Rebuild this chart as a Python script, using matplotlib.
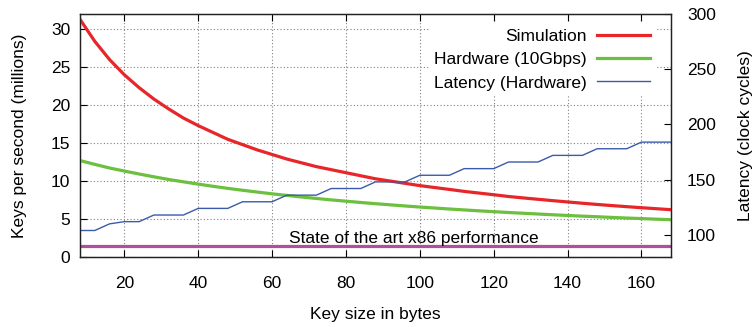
import matplotlib
matplotlib.use("Agg")
import matplotlib.pyplot as plt

plt.rcParams['font.family'] = ['Liberation Sans', 'DejaVu Sans']

# key size in bytes
key_size = [8, 12, 16, 20, 24, 28, 32, 36, 40, 44, 48, 52, 56, 60, 64, 68, 72,
            76, 80, 84, 88, 92, 96, 100, 104, 108, 112, 116, 120, 124, 128, 132,
            136, 140, 144, 148, 152, 156, 160, 164, 168]

# keys per second (millions)
simulation = [31.3, 28.4, 26.0, 24.0, 22.3, 20.8, 19.5, 18.3, 17.3, 16.4, 15.5,
              14.8, 14.1, 13.5, 12.9, 12.4, 11.9, 11.5, 11.1, 10.7, 10.3, 10.0,
              9.7, 9.4, 9.15, 8.9, 8.64, 8.42, 8.2, 7.97, 7.78, 7.6, 7.42, 7.25,
              7.08, 6.92, 6.77, 6.63, 6.49, 6.36, 6.23]
hardware = [12.7, 12.2, 11.72, 11.32, 10.93, 10.56, 10.21, 9.9, 9.6, 9.31, 9.04,
            8.79, 8.55, 8.32, 8.11, 7.9, 7.71, 7.52, 7.35, 7.18, 7.02, 6.87,
            6.72, 6.58, 6.45, 6.32, 6.2, 6.08, 5.97, 5.86, 5.76, 5.66, 5.56,
            5.47, 5.38, 5.3, 5.21, 5.13, 5.06, 4.98, 4.91]

# latency (clock cycles)
latency = [104, 104, 110, 112, 112, 118, 118, 118, 124, 124, 124, 130, 130, 130,
           136, 136, 136, 142, 142, 142, 148, 148, 148, 154, 154, 154, 160, 160,
           160, 166, 166, 166, 172, 172, 172, 178, 178, 178, 184, 184, 184]

x86_state_of_art = 1.4

red = '#e8262a'
green = '#6cbf3f'
blue = '#3b5aaa'
magenta = '#b14f9b'
fs = 12.5

fig = plt.figure(figsize=(7.56, 3.27), dpi=100)
ax = fig.add_axes([80 / 756, 70 / 327, 591 / 756, 243 / 327])
ax2 = ax.twinx()

ax.axhline(x86_state_of_art, color=magenta, lw=2.3, zorder=2)
l1, = ax.plot(key_size, simulation, color=red, lw=2.3, label='Simulation', zorder=3)
l2, = ax.plot(key_size, hardware, color=green, lw=2.3, label='Hardware (10Gbps)', zorder=3)
l3, = ax2.plot(key_size, latency, color=blue, lw=1.0, label='Latency (Hardware)')

ax.annotate('State of the art x86 performance', xy=(98.5, x86_state_of_art),
            xytext=(0, 2.2), textcoords='offset points', ha='center',
            va='baseline', fontsize=fs)

ax.set_xlim(8, 168)
ax.set_ylim(0, 32)
ax2.set_ylim(80, 300)
ax.set_xticks(range(20, 161, 20))
ax.set_yticks(range(0, 31, 5))
ax2.set_yticks(range(100, 301, 50))

ax.grid(True, color='#808080', lw=0.8, linestyle=(0, (1, 2)))
ax.tick_params(axis='x', direction='in', top=True, length=5, width=0.8,
               labelsize=fs, pad=13.5)
ax.tick_params(axis='y', direction='in', length=5, width=0.8, labelsize=fs, pad=7)
ax2.tick_params(axis='y', direction='in', length=5, width=0.8, labelsize=fs, pad=11.5)
for a in (ax, ax2):
    for s in a.spines.values():
        s.set_linewidth(0.9)
        s.set_color('#222222')

ax.set_xlabel('Key size in bytes', fontsize=fs, labelpad=12)
ax.set_ylabel('Keys per second (millions)', fontsize=fs, labelpad=17)
ax2.set_ylabel('Latency (clock cycles)', fontsize=fs, labelpad=16)

leg = ax2.legend(handles=[l1, l2, l3], loc='upper right', markerfirst=False,
                 bbox_to_anchor=(0.973, 0.962), fontsize=fs, frameon=True,
                 facecolor='white', edgecolor='none', framealpha=1,
                 fancybox=False, handlelength=3.05, handletextpad=0.58,
                 labelspacing=0.48, borderpad=0.3, borderaxespad=0)

fig.savefig('out.png', dpi=100)
